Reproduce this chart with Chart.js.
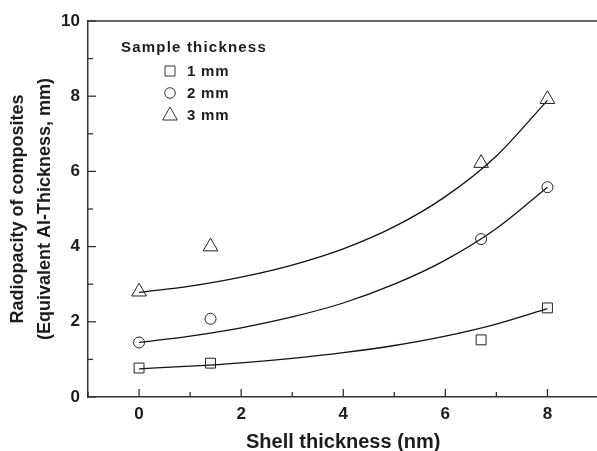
<!DOCTYPE html>
<html>
<head>
<meta charset="utf-8">
<script src="https://cdn.jsdelivr.net/npm/chart.js@4/dist/chart.umd.min.js"></script>
<style>
  html, body { margin: 0; padding: 0; background: #fff; overflow: hidden; }
  #wrap { width: 597px; height: 451px; position: relative; overflow: hidden; }
  #c { display: block; }
</style>
</head>
<body>
<div id="wrap"><canvas id="c" width="608" height="451"></canvas></div>
<script>
// ---- data ----
const seriesLabels = ['1 mm', '2 mm', '3 mm'];
const shellX = [0, 1.4, 6.7, 8];
const y1mm = [0.77, 0.90, 1.52, 2.37];
const y2mm = [1.45, 2.08, 4.20, 5.58];
const y3mm = [2.80, 4.00, 6.22, 7.92];
// fitted curves
const fitX = [0, 1, 2, 3, 4, 5, 6, 7, 8];
const fit1mm = [0.75, 0.82, 0.91, 1.03, 1.18, 1.37, 1.62, 1.94, 2.35];
const fit2mm = [1.45, 1.62, 1.84, 2.13, 2.50, 3.00, 3.64, 4.48, 5.58];
const fit3mm = [2.78, 2.95, 3.19, 3.51, 3.94, 4.53, 5.33, 6.41, 7.89];
const xTicks = [0, 2, 4, 6, 8];
const yTicks = [0, 2, 4, 6, 8, 10];
const xMinorTicks = [-1, 1, 3, 5, 7, 9];
const yMinorTicks = [1, 3, 5, 7, 9];
const legendTitle = 'Sample thickness';
const xTitle = 'Shell thickness (nm)';
const yTitle = ['Radiopacity of composites', '(Equivalent Al-Thickness, mm)'];

const FONT = "'Liberation Sans', Arial, sans-serif";
const INK = '#1c1c1c';

const pts = (xs, ys) => xs.map((x, i) => ({x, y: ys[i]}));

function markerDs(label, data, style, r) {
  return {
    type: 'scatter', label, data,
    pointStyle: style, pointRadius: r, pointHoverRadius: r,
    pointBorderWidth: 1, pointBorderColor: '#222', pointBackgroundColor: 'rgba(0,0,0,0)',
    showLine: false, order: 1
  };
}
function curveDs(data) {
  return {
    type: 'line', label: '', data,
    borderColor: '#111', borderWidth: 1.3, pointRadius: 0,
    cubicInterpolationMode: 'monotone', fill: false, order: 2
  };
}

const frameAndTicks = {
  id: 'frameAndTicks',
  afterDatasetsDraw(chart) {
    const {ctx, chartArea: a, scales: {x, y}} = chart;
    ctx.save();
    ctx.strokeStyle = '#333';
    ctx.lineWidth = 1.5;
    ctx.beginPath();
    ctx.moveTo(a.left, a.top); ctx.lineTo(a.right, a.top);
    ctx.stroke();
    ctx.lineWidth = 1.3;
    const tick = (vals, len, isX) => {
      vals.forEach(v => {
        ctx.beginPath();
        if (isX) {
          const px = x.getPixelForValue(v);
          ctx.moveTo(px, a.bottom); ctx.lineTo(px, a.bottom - len);
        } else {
          const py = y.getPixelForValue(v);
          ctx.moveTo(a.left, py); ctx.lineTo(a.left + len, py);
        }
        ctx.stroke();
      });
    };
    tick(xTicks, 8, true);
    tick(xMinorTicks, 5, true);
    tick(yTicks, 8, false);
    tick(yMinorTicks, 5, false);
    ctx.restore();
  }
};

const customLegend = {
  id: 'customLegend',
  afterDraw(chart) {
    const {ctx} = chart;
    ctx.save();
    ctx.fillStyle = INK;
    ctx.textBaseline = 'alphabetic';
    ctx.textAlign = 'left';
    ctx.font = 'bold 15px ' + FONT;
    if ('letterSpacing' in ctx) ctx.letterSpacing = '1.2px';
    ctx.fillText(legendTitle, 121, 52);
    if ('letterSpacing' in ctx) ctx.letterSpacing = '0.8px';
    const rows = [76, 98, 120];
    const styles = ['rect', 'circle', 'triangle'];
    ctx.strokeStyle = '#333';
    ctx.lineWidth = 1;
    rows.forEach((by, i) => {
      const cx = 170, cy = by - 5;
      ctx.beginPath();
      if (styles[i] === 'rect') {
        ctx.rect(cx - 5, cy - 5, 10, 10);
      } else if (styles[i] === 'circle') {
        ctx.arc(cx, cy, 5.3, 0, Math.PI * 2);
      } else {
        ctx.moveTo(cx, cy - 8); ctx.lineTo(cx + 7.3, cy + 5); ctx.lineTo(cx - 7.3, cy + 5); ctx.closePath();
      }
      ctx.stroke();
      ctx.fillText(seriesLabels[i], 187, by);
    });
    ctx.restore();
  }
};

new Chart(document.getElementById('c'), {
  data: {
    datasets: [
      curveDs(pts(fitX, fit1mm)),
      curveDs(pts(fitX, fit2mm)),
      curveDs(pts(fitX, fit3mm)),
      markerDs(seriesLabels[0], pts(shellX, y1mm), 'rect', 7),
      markerDs(seriesLabels[1], pts(shellX, y2mm), 'circle', 5.5),
      markerDs(seriesLabels[2], pts(shellX, y3mm), 'triangle', 8.5)
    ]
  },
  options: {
    responsive: false,
    animation: false,
    layout: { padding: { top: 21, right: 0, left: 0, bottom: 0 } },
    plugins: { legend: { display: false }, tooltip: { enabled: false } },
    scales: {
      x: {
        type: 'linear', min: -1, max: 9,
        afterBuildTicks: s => { s.ticks = xTicks.map(v => ({value: v})); },
        afterFit: s => { s.height = 54; },
        grid: { display: false, drawTicks: false },
        border: { display: true, color: '#333', width: 1.5 },
        ticks: { color: INK, padding: 7, font: { family: FONT, size: 17, weight: 'bold' } },
        title: { display: true, text: xTitle, color: INK, padding: { top: 0, bottom: -1 },
                 font: { family: FONT, size: 20, weight: 'bold', lineHeight: 1.0 } }
      },
      y: {
        type: 'linear', min: 0, max: 10,
        afterBuildTicks: s => { s.ticks = yTicks.map(v => ({value: v})); },
        afterFit: s => { s.width = 88; },
        grid: { display: false, drawTicks: false },
        border: { display: true, color: '#333', width: 1.5 },
        ticks: { color: INK, padding: 8, font: { family: FONT, size: 17, weight: 'bold' } },
        title: { display: true, text: yTitle, color: INK, padding: { top: 5, bottom: 0 },
                 font: { family: FONT, size: 18, weight: 'bold', lineHeight: 1.5 } }
      }
    }
  },
  plugins: [frameAndTicks, customLegend]
});
</script>
</body>
</html>
